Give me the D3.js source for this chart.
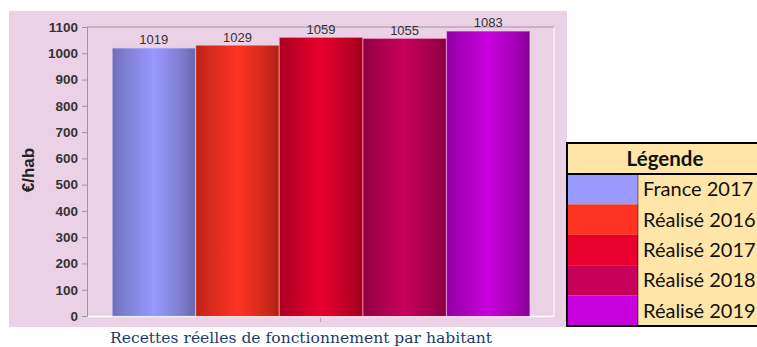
<!DOCTYPE html>
<html><head><meta charset="utf-8">
<script src="https://cdn.jsdelivr.net/npm/d3@7"></script>
<style>body{margin:0;background:#fff;overflow:hidden;}svg{display:block;}</style>
</head><body>
<svg id="c" width="757" height="347"></svg>
<script>
const categories = ["France 2017","Réalisé 2016","Réalisé 2017","Réalisé 2018","Réalisé 2019"];
const values = [1019,1029,1059,1055,1083];
const colors = ["#9999FF","#FF3322","#E8002E","#C8005A","#C800DD"];
const yTicks = [0,100,200,300,400,500,600,700,800,900,1000,1100];
const yLabel = "€/hab";
const title = "Recettes réelles de fonctionnement par habitant";
const legendTitle = "Légende";

const svg = d3.select("#c");
const defs = svg.append("defs");
colors.forEach((c,i)=>{
  const g = defs.append("linearGradient").attr("id","g"+i).attr("x1","0").attr("x2","1").attr("y1","0").attr("y2","0");
  const base = d3.color(c);
  g.append("stop").attr("offset","0").attr("stop-color", base.darker(0.9));
  g.append("stop").attr("offset","0.15").attr("stop-color", base.darker(0.55));
  g.append("stop").attr("offset","0.5").attr("stop-color", base);
  g.append("stop").attr("offset","0.85").attr("stop-color", base.darker(0.6));
  g.append("stop").attr("offset","1").attr("stop-color", base.darker(1.1));
});

// pink panel
svg.append("rect").attr("x",9).attr("y",11).attr("width",558).attr("height",316).attr("fill","#EBD1E6");

const m = {l:87, r:554, t:27, b:316};
const y = d3.scaleLinear().domain([0,1100]).range([m.b, m.t]);
const x = d3.scaleBand().domain(categories).range([m.l+25, m.r-24]).padding(0);

// plot frame
svg.append("line").attr("x1",m.l).attr("x2",m.r).attr("y1",m.t).attr("y2",m.t).attr("stroke","#9a9a9a");
svg.append("line").attr("x1",m.r).attr("x2",m.r).attr("y1",m.t).attr("y2",m.b).attr("stroke","#ffffff");
svg.append("line").attr("x1",m.l).attr("x2",m.r).attr("y1",m.b+0.5).attr("y2",m.b+0.5).attr("stroke","#ffffff").attr("stroke-width",1.5);

const ax = svg.append("g").attr("transform",`translate(${m.l},0)`)
  .call(d3.axisLeft(y).tickValues(yTicks).tickSize(5).tickPadding(4).tickFormat(d3.format("d")));
ax.select(".domain").attr("stroke","#9a9a9a");
ax.selectAll(".tick line").attr("stroke","#9a9a9a");
ax.selectAll(".tick text").attr("font-family","Liberation Sans, Arial, sans-serif").attr("font-size",13.5).attr("font-weight","bold").attr("fill","#333");

// category tick at bottom center
svg.append("line").attr("x1",(m.l+m.r)/2).attr("x2",(m.l+m.r)/2).attr("y1",m.b+2).attr("y2",m.b+6).attr("stroke","#aaa");

svg.append("g").selectAll("rect").data(values).join("rect")
  .attr("x",(d,i)=>x(categories[i])+0.5)
  .attr("width",x.bandwidth()-1)
  .attr("y",d=>y(d))
  .attr("height",d=>m.b-y(d))
  .attr("fill",(d,i)=>`url(#g${i})`)
  .attr("stroke",(d,i)=>d3.color(colors[i]).brighter(0.3))
  .attr("stroke-opacity",0.35);

svg.append("g").selectAll("text").data(values).join("text")
  .attr("x",(d,i)=>x(categories[i])+x.bandwidth()/2)
  .attr("y",d=>y(d)-4)
  .attr("text-anchor","middle")
  .attr("font-family","Liberation Sans, Arial, sans-serif").attr("font-size",13).attr("fill","#333")
  .text(d=>d);

svg.append("text").attr("transform","translate(34,170) rotate(-90)")
  .attr("text-anchor","middle").attr("font-family","Liberation Sans, Arial, sans-serif")
  .attr("font-size",17).attr("font-weight","bold").attr("fill","#222").text(yLabel);

svg.append("text").attr("x",301).attr("y",343).attr("text-anchor","middle")
  .attr("font-family","DejaVu Serif, Liberation Serif, serif").attr("font-size",15)
  .attr("textLength",382).attr("lengthAdjust","spacingAndGlyphs")
  .attr("fill","#1F3B6E").text(title);

// legend table
const lg = svg.append("g");
const lx = 567, ly = 143, lw = 230, hh = 31, rh = 30.4, sw = 71;
lg.append("rect").attr("x",lx).attr("y",ly).attr("width",lw).attr("height",hh+rh*5).attr("fill","#FFE5A8");
lg.append("text").attr("x",665).attr("y",ly+23).attr("text-anchor","middle")
  .attr("font-family","Lato, Open Sans, sans-serif").attr("font-size",20.5).attr("font-weight","bold").attr("fill","#111").text(legendTitle);
categories.forEach((c,i)=>{
  const yy = ly+hh+i*rh;
  lg.append("rect").attr("x",lx).attr("y",yy).attr("width",sw).attr("height",rh).attr("fill",colors[i]);
  lg.append("text").attr("x",lx+sw+5).attr("y",yy+rh/2+7).attr("font-family","Lato, Open Sans, sans-serif")
    .attr("font-size",20).attr("fill","#111").text(c);
});
lg.append("rect").attr("x",lx).attr("y",ly).attr("width",lw).attr("height",hh+rh*5).attr("fill","none").attr("stroke","#000").attr("stroke-width",2);
lg.append("line").attr("x1",lx).attr("x2",lx+lw).attr("y1",ly+hh).attr("y2",ly+hh).attr("stroke","#000").attr("stroke-width",2);
lg.append("line").attr("x1",lx+sw).attr("x2",lx+sw).attr("y1",ly+hh).attr("y2",ly+hh+rh*5).attr("stroke","#000").attr("stroke-width",0.5);
</script>
</body></html>
